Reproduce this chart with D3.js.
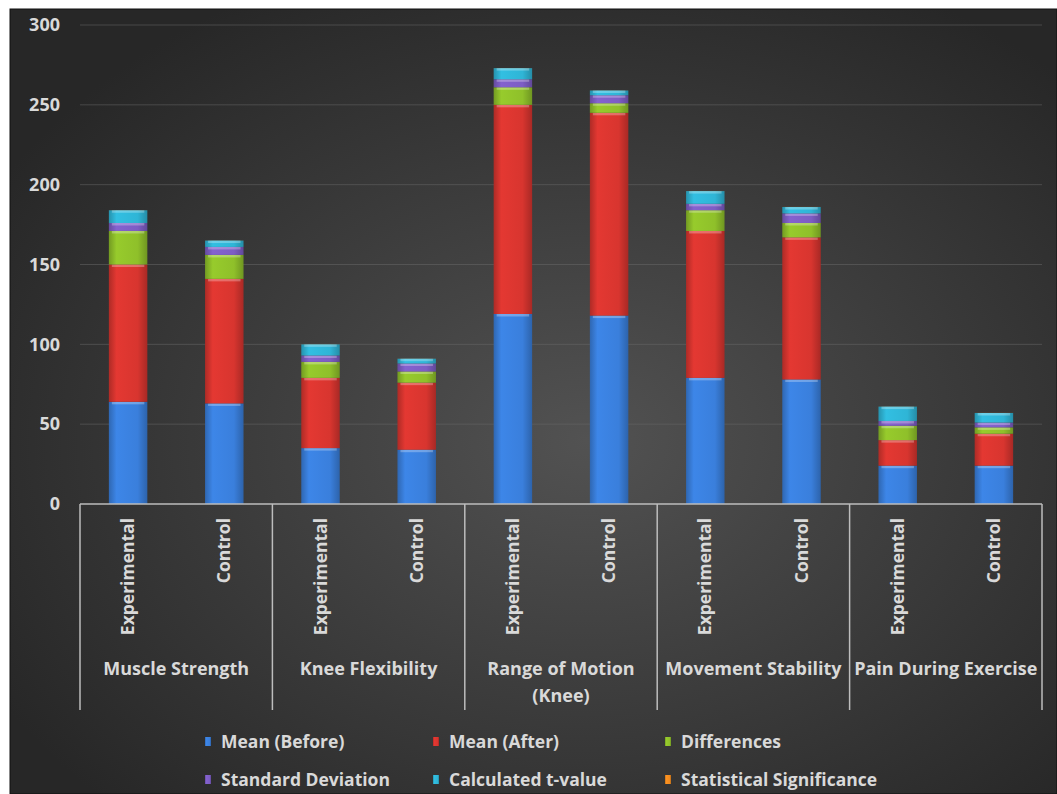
<!DOCTYPE html>
<html>
<head>
<meta charset="utf-8">
<script src="https://cdn.jsdelivr.net/npm/d3@7"></script>
<style>
  html, body { margin: 0; padding: 0; background: #ffffff; }
  svg { display: block; }
  text { font-family: "Open Sans", Lato, sans-serif; font-weight: bold; }
</style>
</head>
<body>
<svg id="chart" width="1057" height="794"></svg>
<script>
// ---- data ----
const categories = ["Muscle Strength", "Knee Flexibility", "Range of Motion (Knee)", "Movement Stability", "Pain During Exercise"];
const groups = ["Experimental", "Control"];
const seriesNames = ["Mean (Before)", "Mean (After)", "Differences", "Standard Deviation", "Calculated t-value", "Statistical Significance"];
// values ordered: category by category, Experimental then Control
const meanBefore   = [64, 63, 35, 34, 119, 118, 79, 78, 24, 24];
const meanAfter    = [86, 78, 44, 42, 131, 127, 92, 89, 16, 20];
const differences  = [21, 15, 10, 7, 11, 6, 13, 9, 9, 4];
const stdDeviation = [5, 5, 4, 5, 5, 5, 4, 6, 3, 3];
const tValue       = [8, 4, 7, 3, 7, 3, 8, 4, 9, 6];
const significance = [0.05, 0.05, 0.05, 0.05, 0.05, 0.05, 0.05, 0.05, 0.05, 0.05];
const yTicks = [0, 50, 100, 150, 200, 250, 300];
const colors = ["#3a7fdc", "#d8352f", "#8fc02a", "#7d5dc4", "#2fb5d6", "#ef8a1f"];

// ---- build rows ----
const seriesValues = [meanBefore, meanAfter, differences, stdDeviation, tValue, significance];
const rows = [];
categories.forEach((c, ci) => {
  groups.forEach((g, gi) => {
    const idx = ci * 2 + gi;
    const r = { key: c + "|" + g, category: c, group: g };
    seriesNames.forEach((s, si) => r[s] = seriesValues[si][idx]);
    rows.push(r);
  });
});

const svg = d3.select("#chart");
const defs = svg.append("defs");

// background gradient
const bg = defs.append("radialGradient").attr("id", "bg")
  .attr("cx", "55%").attr("cy", "55%").attr("r", "65%");
bg.append("stop").attr("offset", "0%").attr("stop-color", "#525252");
bg.append("stop").attr("offset", "100%").attr("stop-color", "#272727");

svg.append("rect").attr("x", 10).attr("y", 9).attr("width", 1047).attr("height", 785)
  .attr("fill", "url(#bg)").attr("stroke", "#111").attr("stroke-width", 1);

// bar gradients (glossy look)
colors.forEach((col, i) => {
  const c = d3.color(col);
  const g = defs.append("linearGradient").attr("id", "g" + i)
    .attr("x1", "0%").attr("x2", "100%").attr("y1", "0%").attr("y2", "0%");
  g.append("stop").attr("offset", "0%").attr("stop-color", c.darker(0.6));
  g.append("stop").attr("offset", "20%").attr("stop-color", c.brighter(0.15));
  g.append("stop").attr("offset", "75%").attr("stop-color", c);
  g.append("stop").attr("offset", "100%").attr("stop-color", c.darker(0.7));
});

const margin = { left: 80, right: 1042, top: 25, bottom: 504 };

const x0 = d3.scaleBand().domain(categories).range([margin.left, margin.right]).paddingInner(0).paddingOuter(0);
const x1 = d3.scaleBand().domain(groups).range([0, x0.bandwidth()]).paddingInner(0.6).paddingOuter(0.3);
const y = d3.scaleLinear().domain([0, 300]).range([margin.bottom, margin.top]);

// gridlines
svg.append("g").selectAll("line").data(yTicks.filter(d => d > 0)).join("line")
  .attr("x1", margin.left).attr("x2", margin.right)
  .attr("y1", d => y(d)).attr("y2", d => y(d))
  .attr("stroke", "#6a6a6a").attr("stroke-opacity", 0.5).attr("stroke-width", 1);

// y axis labels
const yAxis = d3.axisLeft(y).tickValues(yTicks).tickSize(0).tickPadding(0);
const yg = svg.append("g").attr("transform", `translate(${margin.left - 20},0)`).call(yAxis);
yg.select(".domain").remove();
yg.selectAll("text").attr("fill", "#d9d9d9").attr("font-size", 18)
  .attr("font-family", "'Open Sans', sans-serif").attr("font-weight", "bold");

// stacked bars
const stack = d3.stack().keys(seriesNames);
const stacked = stack(rows);
const barG = svg.append("g");
stacked.forEach((layer, si) => {
  barG.append("g").selectAll("rect").data(layer).join("rect")
    .attr("x", d => x0(d.data.category) + x1(d.data.group))
    .attr("width", x1.bandwidth())
    .attr("y", d => y(d[1]))
    .attr("height", d => Math.max(0, y(d[0]) - y(d[1])))
    .attr("fill", `url(#g${si})`);
  // highlight strip at top of each segment
  barG.append("g").selectAll("rect").data(layer.filter(d => y(d[0]) - y(d[1]) > 4)).join("rect")
    .attr("x", d => x0(d.data.category) + x1(d.data.group) + 3)
    .attr("width", x1.bandwidth() - 6)
    .attr("y", d => y(d[1]))
    .attr("height", 2.5)
    .attr("fill", "#ffffff").attr("opacity", 0.28);
});

// x axis line
svg.append("line").attr("x1", margin.left).attr("x2", margin.right)
  .attr("y1", margin.bottom).attr("y2", margin.bottom)
  .attr("stroke", "#bdbdbd").attr("stroke-width", 1.5);

// group separators
const seps = categories.map(c => x0(c)).concat([margin.right]);
svg.append("g").selectAll("line").data(seps).join("line")
  .attr("x1", d => d).attr("x2", d => d)
  .attr("y1", margin.bottom).attr("y2", 710)
  .attr("stroke", "#bdbdbd").attr("stroke-width", 1.5);

// sub labels (rotated)
const subG = svg.append("g");
rows.forEach(r => {
  const cx = x0(r.category) + x1(r.group) + x1.bandwidth() / 2;
  subG.append("text")
    .attr("transform", `translate(${cx + 6},${518}) rotate(-90)`)
    .attr("text-anchor", "end")
    .attr("fill", "#d9d9d9").attr("font-size", 17.5)
    .attr("font-weight", 600)
    .text(r.group);
});

// category labels
const catG = svg.append("g");
categories.forEach(c => {
  const cx = x0(c) + x0.bandwidth() / 2;
  const lines = c === "Range of Motion (Knee)" ? ["Range of Motion", "(Knee)"] : [c];
  lines.forEach((l, i) => {
    catG.append("text").attr("x", cx).attr("y", 675 + i * 27)
      .attr("text-anchor", "middle").attr("fill", "#d9d9d9")
      .attr("font-size", 18).text(l);
  });
});

// legend
const legendPos = [
  { x: 205, y: 742 }, { x: 433, y: 742 }, { x: 665, y: 742 },
  { x: 205, y: 780 }, { x: 433, y: 780 }, { x: 665, y: 780 }
];
const lg = svg.append("g");
seriesNames.forEach((s, i) => {
  const p = legendPos[i];
  lg.append("rect").attr("x", p.x).attr("y", p.y - 5).attr("width", 6).attr("height", 9)
    .attr("fill", `url(#g${i})`);
  lg.append("text").attr("x", p.x + 16).attr("y", p.y + 6)
    .attr("fill", "#d9d9d9").attr("font-size", 17.5).text(s);
});
</script>
</body>
</html>
